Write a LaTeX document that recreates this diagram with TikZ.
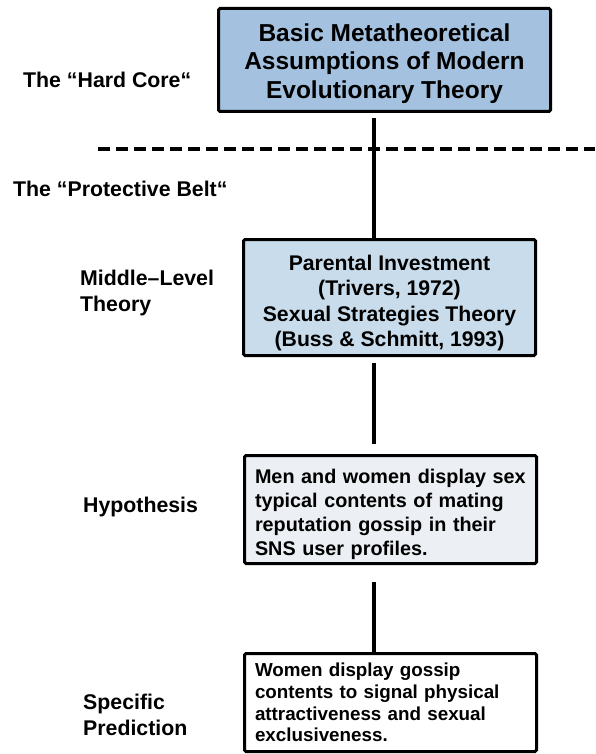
\documentclass[tikz,border=0pt]{standalone}
\usepackage{fontspec}
\setmainfont{Liberation Sans}
\usetikzlibrary{calc}
\definecolor{coreblue}{RGB}{164,194,224}
\definecolor{midblue}{RGB}{201,220,235}
\definecolor{hypgray}{RGB}{236,240,244}
\begin{document}
\begin{tikzpicture}[x=1pt,y=-1pt,
  box/.style={draw=black,line width=3pt,rounded corners=1.5pt,inner sep=0pt},
  boxtext/.style={inner sep=0pt,font=\bfseries},
  lbl/.style={anchor=west,align=left,inner sep=0pt,font=\bfseries\fontsize{21.3}{25.5}\selectfont},
  conn/.style={line width=3.4pt},
  sep/.style={line width=3.3pt,dash pattern=on 12pt off 6pt}]
\useasboundingbox (0,0) rectangle (595,754);
\coordinate (spine) at (374,0);
% boxes
\node[box,fill=coreblue,minimum width=332,minimum height=103] (core) at (384.5,60) {};
\node[boxtext,align=center,font=\bfseries\fontsize{24.5}{28.5}\selectfont] (coretext) at (384.5,63.5)
  {Basic Metatheoretical\\Assumptions of Modern\\Evolutionary Theory};
\node[box,fill=midblue,minimum width=292,minimum height=116] (mid) at (389.5,297.5) {};
\node[boxtext,align=center,font=\bfseries\fontsize{21.2}{25.5}\selectfont] (midtext) at (389.5,303)
  {Parental Investment\\(Trivers, 1972)\\Sexual Strategies Theory\\(Buss \& Schmitt, 1993)};
\node[box,fill=hypgray,minimum width=292,minimum height=108] (hyp) at (390.5,509.5) {};
\node[boxtext,text width=285,align=left,font=\bfseries\fontsize{19.8}{24}\selectfont] (hyptext) at (397.5,514.5)
  {Men and women display sex\\typical contents of mating\\reputation gossip in their\\SNS user profiles.};
\node[box,fill=white,minimum width=292,minimum height=98] (spec) at (390.5,702.5) {};
\node[boxtext,text width=270,align=left,font=\bfseries\fontsize{18.8}{21.8}\selectfont] (spectext) at (390,702.5)
  {Women display gossip\\contents to signal physical\\attractiveness and sexual\\exclusiveness.};
% labels
\node[lbl] (lhard) at (23,80) {The “Hard Core“};
\node[lbl] (lbelt) at (13,189) {The “Protective Belt“};
\node[lbl] (lmid) at (80,293) {Middle–Level\\Theory};
\node[lbl] (lhyp) at (83,507) {Hypothesis};
\node[lbl] (lspec) at (83,715) {Specific\\Prediction};
% separator
\coordinate (sepL) at (98,149);
\coordinate (sepR) at (595,149);
\draw[sep] (sepL) -- (sepR);
% connectors
\draw[conn] ($(core.south -| spine)+(0,5)$) -- (mid.north -| spine);
\draw[conn] ($(mid.south -| spine)+(0,6)$) -- ($(hyp.north -| spine)+(0,-10)$);
\draw[conn] ($(hyp.south -| spine)+(0,17)$) -- (spec.north -| spine);
\end{tikzpicture}
\end{document}
